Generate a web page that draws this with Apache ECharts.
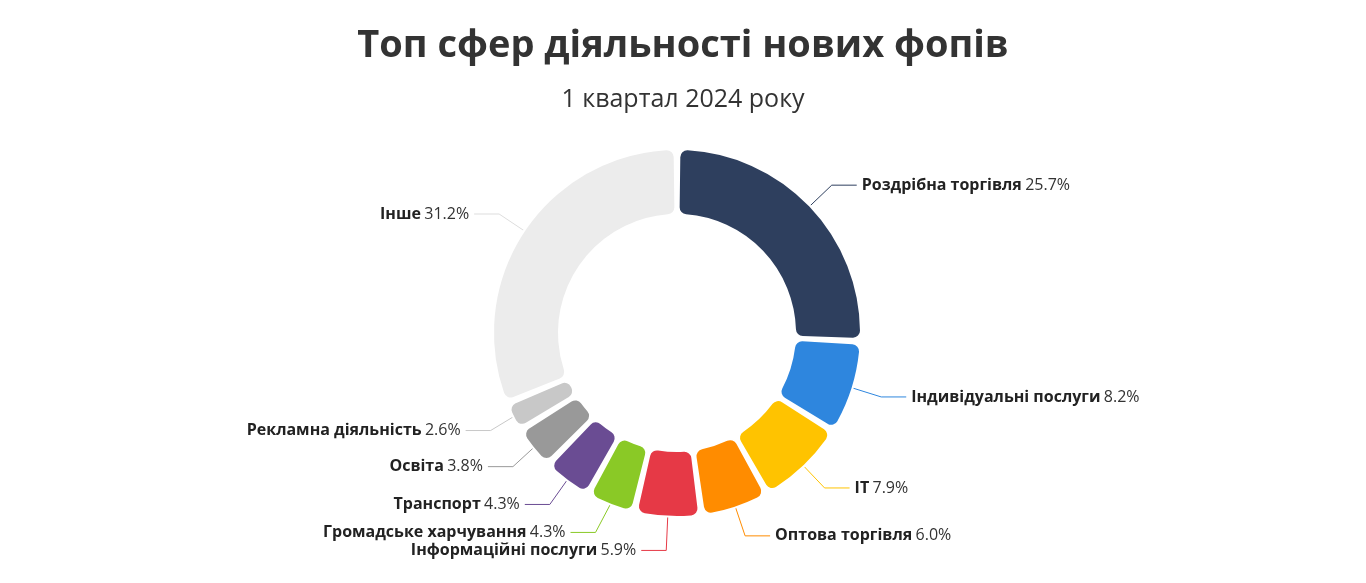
<html><head><meta charset="utf-8"><script src="https://cdn.jsdelivr.net/npm/echarts@6/dist/echarts.min.js"></script>
<style>html,body{margin:0;background:#fff}#c{width:1366px;height:583px}</style></head><body><div id="c"></div><script>
const categories=["Роздрібна торгівля","Індивідуальні послуги","IT","Оптова торгівля","Інформаційні послуги","Громадське харчування","Транспорт","Освіта","Рекламна діяльність","Інше"];
const values=[25.7,8.2,7.9,6.0,5.9,4.3,4.3,3.8,2.6,31.2];
const colors=["#2e3f5e","#2e86de","#ffc300","#ff8c00","#e63946","#8ac926","#6a4c93","#999999","#c8c8c8","#ececec"];
const chart=echarts.init(document.getElementById('c'));
chart.setOption({
 title:[{text:"Топ сфер діяльності нових фопів",left:'center',top:22,textStyle:{fontFamily:'Open Sans',fontSize:38,fontWeight:'bold',color:'#333'}},
  {text:"1 квартал 2024 року",left:'center',top:82,textStyle:{fontFamily:'Open Sans',fontSize:25,fontWeight:'normal',color:'#333'}}],
 series:[{type:'pie',center:[677,333],radius:[118,184],startAngle:90,padAngle:1.5,
  itemStyle:{borderRadius:8,borderColor:'#fff',borderWidth:2},
  label:{formatter:p=>'{b|'+p.name+'} {v|'+p.value.toFixed(1)+'%}',
   rich:{b:{fontFamily:'Open Sans',fontSize:16,fontWeight:'bold',color:'#222'},v:{fontFamily:'Open Sans',fontSize:16,color:'#333'}}},
  labelLine:{length:30,length2:25},
  data:categories.map((n,i)=>({name:n,value:values[i],itemStyle:{color:colors[i]},labelLine:{lineStyle:{color:i==9?'#ddd':colors[i]}}}))}]
});
</script></body></html>
